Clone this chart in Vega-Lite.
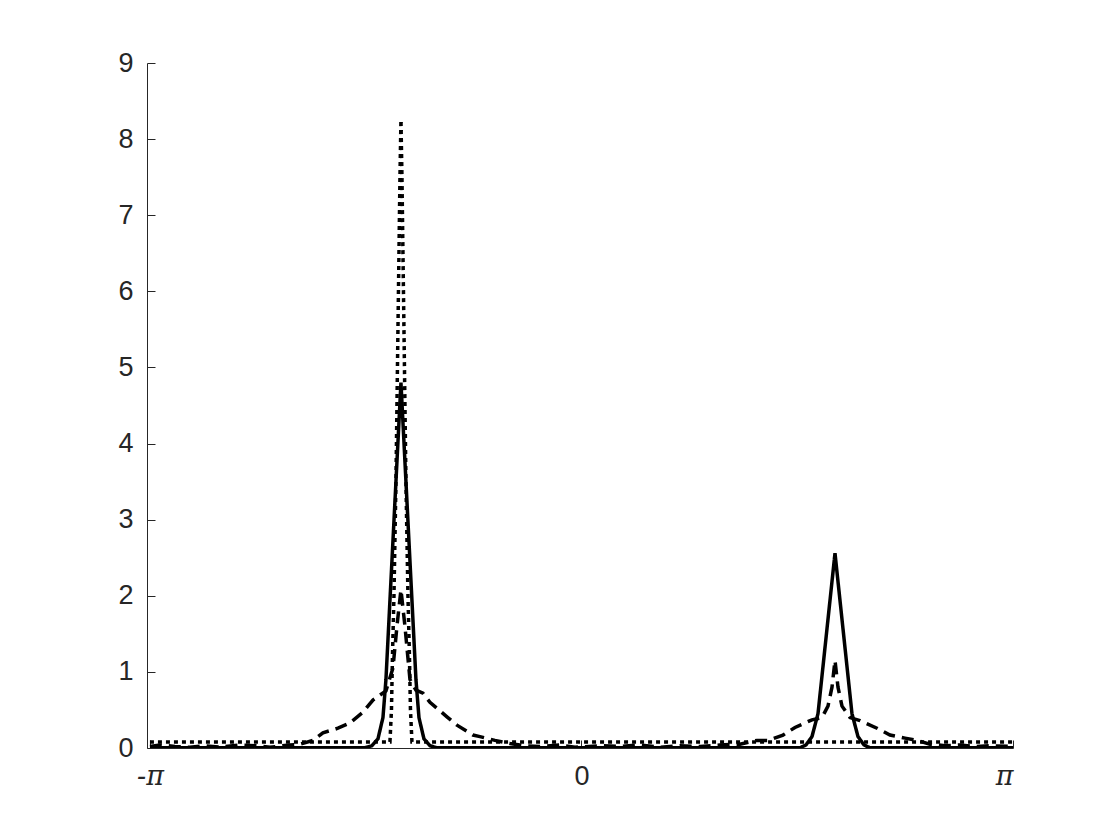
{
  "$schema": "https://vega.github.io/schema/vega-lite/v6.json",
  "autosize": {"type": "none"},
  "padding": {"left": 147, "top": 63, "right": 107, "bottom": 92},
  "width": 866,
  "height": 685,
  "background": "white",
  "config": {"view": {"stroke": null}},
  "data": {"values": [
    {"s": "a", "x": -3.1416, "y": 0.003},
    {"s": "a", "x": -1.5763, "y": 0.003},
    {"s": "a", "x": -1.5253, "y": 0.03},
    {"s": "a", "x": -1.4816, "y": 0.12},
    {"s": "a", "x": -1.4452, "y": 0.4},
    {"s": "a", "x": -1.4234, "y": 0.9},
    {"s": "a", "x": -1.3142, "y": 4.8},
    {"s": "a", "x": -1.2050, "y": 0.9},
    {"s": "a", "x": -1.1831, "y": 0.4},
    {"s": "a", "x": -1.1467, "y": 0.12},
    {"s": "a", "x": -1.1030, "y": 0.03},
    {"s": "a", "x": -1.0521, "y": 0.003},
    {"s": "a", "x": 1.5908, "y": 0.003},
    {"s": "a", "x": 1.6345, "y": 0.04},
    {"s": "a", "x": 1.6782, "y": 0.15},
    {"s": "a", "x": 1.7219, "y": 0.45},
    {"s": "a", "x": 1.8457, "y": 2.56},
    {"s": "a", "x": 1.9694, "y": 0.45},
    {"s": "a", "x": 2.0131, "y": 0.15},
    {"s": "a", "x": 2.0568, "y": 0.04},
    {"s": "a", "x": 2.1005, "y": 0.003},
    {"s": "a", "x": 3.1416, "y": 0.003},

    {"s": "b", "x": -3.1416, "y": 0.02},
    {"s": "b", "x": -3.0688, "y": 0.04},
    {"s": "b", "x": -2.9596, "y": 0.02},
    {"s": "b", "x": -2.8504, "y": 0.01},
    {"s": "b", "x": -2.7412, "y": 0.03},
    {"s": "b", "x": -2.6320, "y": 0.01},
    {"s": "b", "x": -2.4863, "y": 0.04},
    {"s": "b", "x": -2.3771, "y": 0.03},
    {"s": "b", "x": -2.2679, "y": 0.01},
    {"s": "b", "x": -2.1223, "y": 0.04},
    {"s": "b", "x": -2.0495, "y": 0.05},
    {"s": "b", "x": -1.9549, "y": 0.1},
    {"s": "b", "x": -1.8821, "y": 0.2},
    {"s": "b", "x": -1.7728, "y": 0.26},
    {"s": "b", "x": -1.6855, "y": 0.33},
    {"s": "b", "x": -1.5908, "y": 0.47},
    {"s": "b", "x": -1.5180, "y": 0.63},
    {"s": "b", "x": -1.4234, "y": 0.75},
    {"s": "b", "x": -1.3724, "y": 1.05},
    {"s": "b", "x": -1.3433, "y": 1.6},
    {"s": "b", "x": -1.3142, "y": 2.08},
    {"s": "b", "x": -1.2851, "y": 1.6},
    {"s": "b", "x": -1.2486, "y": 0.9},
    {"s": "b", "x": -1.2050, "y": 0.76},
    {"s": "b", "x": -1.1540, "y": 0.72},
    {"s": "b", "x": -1.1030, "y": 0.6},
    {"s": "b", "x": -0.9793, "y": 0.41},
    {"s": "b", "x": -0.9064, "y": 0.3},
    {"s": "b", "x": -0.7900, "y": 0.17},
    {"s": "b", "x": -0.7390, "y": 0.15},
    {"s": "b", "x": -0.6298, "y": 0.1},
    {"s": "b", "x": -0.5206, "y": 0.06},
    {"s": "b", "x": -0.4114, "y": 0.03},
    {"s": "b", "x": -0.3021, "y": 0.02},
    {"s": "b", "x": -0.1565, "y": 0.04},
    {"s": "b", "x": -0.0473, "y": 0.01},
    {"s": "b", "x": 0.1347, "y": 0.03},
    {"s": "b", "x": 0.2803, "y": 0.02},
    {"s": "b", "x": 0.4259, "y": 0.04},
    {"s": "b", "x": 0.5715, "y": 0.01},
    {"s": "b", "x": 0.7172, "y": 0.03},
    {"s": "b", "x": 0.8628, "y": 0.02},
    {"s": "b", "x": 1.0084, "y": 0.04},
    {"s": "b", "x": 1.1540, "y": 0.05},
    {"s": "b", "x": 1.2778, "y": 0.1},
    {"s": "b", "x": 1.3578, "y": 0.1},
    {"s": "b", "x": 1.4671, "y": 0.17},
    {"s": "b", "x": 1.5544, "y": 0.27},
    {"s": "b", "x": 1.6782, "y": 0.37},
    {"s": "b", "x": 1.7510, "y": 0.4},
    {"s": "b", "x": 1.7947, "y": 0.55},
    {"s": "b", "x": 1.8238, "y": 0.8},
    {"s": "b", "x": 1.8457, "y": 1.15},
    {"s": "b", "x": 1.8675, "y": 0.8},
    {"s": "b", "x": 1.8967, "y": 0.55},
    {"s": "b", "x": 1.9549, "y": 0.4},
    {"s": "b", "x": 2.0277, "y": 0.36},
    {"s": "b", "x": 2.1515, "y": 0.26},
    {"s": "b", "x": 2.2461, "y": 0.17},
    {"s": "b", "x": 2.3553, "y": 0.13},
    {"s": "b", "x": 2.4427, "y": 0.1},
    {"s": "b", "x": 2.5373, "y": 0.05},
    {"s": "b", "x": 2.6466, "y": 0.03},
    {"s": "b", "x": 2.7558, "y": 0.04},
    {"s": "b", "x": 2.8650, "y": 0.02},
    {"s": "b", "x": 2.9741, "y": 0.03},
    {"s": "b", "x": 3.1416, "y": 0.02},

    {"s": "c", "x": -3.1416, "y": 0.08},
    {"s": "c", "x": -1.3943, "y": 0.08},
    {"s": "c", "x": -1.3833, "y": 0.5},
    {"s": "c", "x": -1.3760, "y": 1.2},
    {"s": "c", "x": -1.3651, "y": 2.0},
    {"s": "c", "x": -1.3506, "y": 3.5},
    {"s": "c", "x": -1.3360, "y": 5.5},
    {"s": "c", "x": -1.3214, "y": 7.5},
    {"s": "c", "x": -1.3142, "y": 8.25},
    {"s": "c", "x": -1.3069, "y": 7.5},
    {"s": "c", "x": -1.2923, "y": 5.5},
    {"s": "c", "x": -1.2778, "y": 3.5},
    {"s": "c", "x": -1.2632, "y": 2.0},
    {"s": "c", "x": -1.2523, "y": 1.2},
    {"s": "c", "x": -1.2450, "y": 0.5},
    {"s": "c", "x": -1.2341, "y": 0.08},
    {"s": "c", "x": 3.1416, "y": 0.08}
  ]},
  "mark": {"type": "line", "strokeWidth": 3.5, "color": "black", "strokeCap": "butt", "strokeJoin": "miter", "clip": true},
  "encoding": {
    "x": {
      "field": "x", "type": "quantitative",
      "scale": {"domain": [-3.163, 3.1416], "nice": false, "zero": false},
      "axis": {
        "title": null, "values": [-3.14159, 0, 3.14159],
        "labelExpr": "datum.value < -1 ? '-π' : (datum.value > 1 ? 'π' : '0')",
        "grid": false, "domainColor": "#262626", "tickColor": "#262626",
        "tickSize": -8, "labelPadding": 23,
        "labelFont": {"condition": {"test": "datum.value != 0", "value": "DejaVu Serif"}, "value": "Liberation Sans"},
        "labelFontStyle": {"condition": {"test": "datum.value != 0", "value": "italic"}, "value": "normal"},
        "labelFontSize": 27, "labelColor": "#262626"
      }
    },
    "y": {
      "field": "y", "type": "quantitative",
      "scale": {"domain": [0, 9], "nice": false},
      "axis": {
        "title": null, "values": [0, 1, 2, 3, 4, 5, 6, 7, 8, 9],
        "grid": false, "domainColor": "#262626", "tickColor": "#262626",
        "tickSize": -8, "labelPadding": 22, "labelFont": "Liberation Sans",
        "labelFontSize": 27, "labelColor": "#262626"
      }
    },
    "detail": {"field": "s"},
    "strokeDash": {
      "field": "s", "type": "nominal",
      "scale": {"domain": ["a", "b", "c"], "range": [[1, 0], [12, 7], [4, 4]]},
      "legend": null
    },
    "order": {"field": "x", "type": "quantitative"}
  }
}
